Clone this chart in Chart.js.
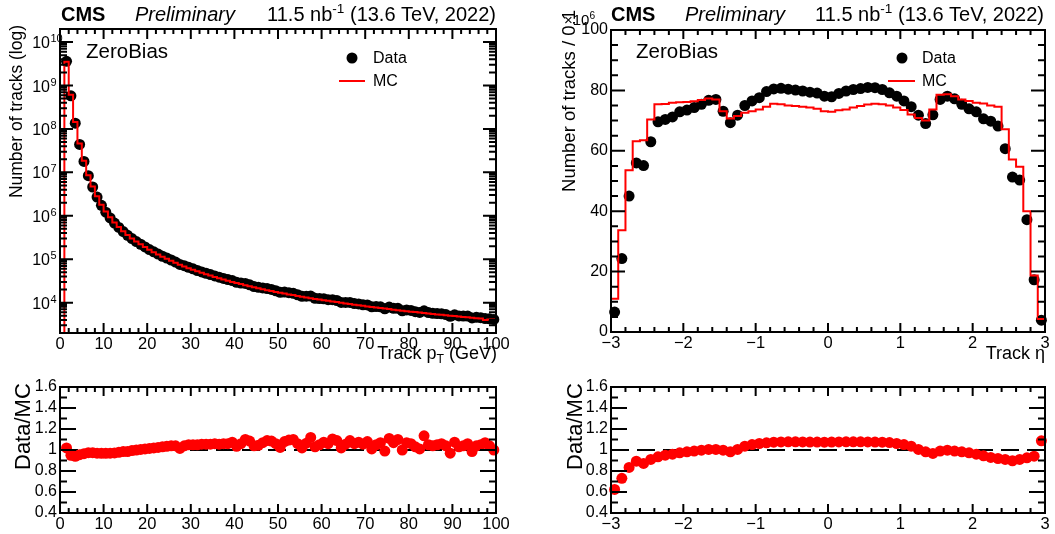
<!DOCTYPE html>
<html>
<head>
<meta charset="utf-8">
<script src="https://cdn.jsdelivr.net/npm/chart.js@4.4.1/dist/chart.umd.min.js"></script>
<style>
  body { margin: 0; background: #fff; }
  #wrap { position: relative; width: 1055px; height: 534px; }
  canvas { position: absolute; }
</style>
</head>
<body>
<div id="wrap">
  <canvas id="ptTop" width="527" height="370" style="left:0;top:0"></canvas>
  <canvas id="etaTop" width="528" height="370" style="left:527px;top:0"></canvas>
  <canvas id="ptRatio" width="527" height="164" style="left:0;top:370px"></canvas>
  <canvas id="etaRatio" width="528" height="164" style="left:527px;top:370px"></canvas>
</div>
<script>
const FONT = '"Liberation Sans", Arial, Helvetica, sans-serif';

// track pT: 1 GeV bins from 0 to 100
const ptLow = 0, ptWidth = 1;
const ptMC = [
  0, 3.5e9, 6.1e8, 1.45e8, 4.6e7, 1.85e7, 8.6e6, 4.7e6, 2.8e6, 1.8e6,
  1.25e6, 9.2e5, 7.0e5, 5.5e5, 4.4e5, 3.6e5, 3.0e5, 2.55e5, 2.2e5, 1.9e5,
  1.65e5, 1.45e5, 1.28e5, 1.14e5, 1.02e5, 9.2e4, 8.3e4, 7.5e4, 6.8e4, 6.2e4,
  5.7e4, 5.25e4, 4.85e4, 4.5e4, 4.2e4, 3.9e4, 3.65e4, 3.4e4, 3.2e4, 3.0e4,
  2.83e4, 2.67e4, 2.52e4, 2.38e4, 2.26e4, 2.15e4, 2.04e4, 1.94e4, 1.85e4, 1.77e4,
  1.69e4, 1.62e4, 1.55e4, 1.49e4, 1.43e4, 1.37e4, 1.32e4, 1.27e4, 1.22e4, 1.18e4,
  1.14e4, 1.10e4, 1.06e4, 1.03e4, 9.9e3, 9.6e3, 9.3e3, 9.0e3, 8.7e3, 8.45e3,
  8.2e3, 7.95e3, 7.7e3, 7.5e3, 7.3e3, 7.1e3, 6.9e3, 6.7e3, 6.5e3, 6.35e3,
  6.2e3, 6.05e3, 5.9e3, 5.75e3, 5.6e3, 5.5e3, 5.35e3, 5.25e3, 5.1e3, 5.0e3,
  4.9e3, 4.8e3, 4.7e3, 4.6e3, 4.5e3, 4.4e3, 4.3e3, 4.0e3, 4.1e3, 4.1e3
];
const ptData = [
  null, 3.6e9, 5.8e8, 1.36e8, 4.4e7, 1.79e7, 8.4e6, 4.6e6, 2.7e6, 1.74e6,
  1.21e6, 8.9e5, 6.8e5, 5.4e5, 4.33e5, 3.55e5, 2.99e5, 2.55e5, 2.21e5, 1.92e5,
  1.67e5, 1.48e5, 1.31e5, 1.17e5, 1.06e5, 9.6e4, 8.6e4, 7.6e4, 7.1e4, 6.5e4,
  6.0e4, 5.5e4, 5.1e4, 4.75e4, 4.43e4, 4.13e4, 3.85e4, 3.6e4, 3.39e4, 3.23e4,
  2.93e4, 2.83e4, 2.77e4, 2.58e4, 2.35e4, 2.25e4, 2.18e4, 2.11e4, 2.01e4, 1.88e4,
  1.73e4, 1.75e4, 1.70e4, 1.64e4, 1.52e4, 1.40e4, 1.41e4, 1.42e4, 1.26e4, 1.24e4,
  1.23e4, 1.17e4, 1.17e4, 1.12e4, 1.01e4, 1.01e4, 1.01e4, 9.5e3, 9.35e3, 8.9e3,
  8.85e3, 8.0e3, 8.1e3, 8.0e3, 7.2e3, 7.9e3, 7.4e3, 7.4e3, 6.5e3, 6.8e3,
  6.6e3, 6.2e3, 5.95e3, 6.5e3, 5.9e3, 5.7e3, 5.6e3, 5.55e3, 5.3e3, 4.85e3,
  5.25e3, 4.95e3, 4.9e3, 4.9e3, 4.45e3, 4.6e3, 4.5e3, 4.3e3, 4.25e3, 4.1e3
];
const ptRatio = [
  null, 1.02, 0.95, 0.94, 0.955, 0.965, 0.975, 0.975, 0.97, 0.968,
  0.968, 0.97, 0.972, 0.978, 0.985, 0.985, 0.995, 1.0, 1.005, 1.01,
  1.015, 1.02, 1.025, 1.03, 1.035, 1.04, 1.04, 1.015, 1.04, 1.05,
  1.05, 1.05, 1.055, 1.055, 1.055, 1.06, 1.055, 1.06, 1.06, 1.075,
  1.035, 1.06, 1.1, 1.085, 1.04, 1.045, 1.07, 1.09, 1.085, 1.06,
  1.025, 1.08, 1.095, 1.1, 1.06, 1.02, 1.065, 1.12, 1.03, 1.05,
  1.075, 1.06, 1.105, 1.09, 1.02, 1.055, 1.09, 1.06, 1.075, 1.055,
  1.08, 1.01, 1.05, 1.07, 0.99, 1.11, 1.07, 1.1, 1.0, 1.07,
  1.06, 1.03, 1.01, 1.135, 1.05, 1.04, 1.05, 1.06, 1.04, 0.97,
  1.075, 1.03, 1.04, 1.06, 0.985, 1.04, 1.05, 1.07, 1.04, 1.0
];

// track eta: 0.1 bins from -3 to 3, in units of 10^6 tracks
const etaLow = -3, etaWidth = 0.1;
const etaMC = [
  11.0, 33.7, 53.6, 63.2, 63.5, 70.4, 75.4, 75.5, 75.9, 76.1,
  76.2, 76.4, 76.8, 77.3, 77.0, 73.1, 70.7, 71.5, 72.6, 73.1,
  73.7, 74.6, 75.6, 75.4, 75.0, 74.8, 74.6, 74.3, 73.9, 73.1,
  72.9, 73.4, 73.7, 74.3, 74.8, 75.3, 75.6, 75.4, 75.0, 74.3,
  73.5, 72.0, 70.9, 70.0, 73.7, 78.6, 78.7, 78.1, 77.0, 76.5,
  75.9, 75.7, 75.0, 74.6, 67.1, 57.1, 54.7, 40.0, 18.7, 4.3
];
const etaData = [
  6.6, 24.3, 45.0, 56.0, 55.1, 63.0, 69.6, 70.4, 71.2, 72.9,
  73.5, 74.3, 75.4, 76.7, 77.0, 73.1, 69.3, 71.8, 75.0, 76.5,
  77.6, 79.6, 80.5, 80.7, 80.4, 80.1, 79.8, 79.4, 79.1, 78.1,
  77.9, 79.0, 79.8, 80.3, 80.6, 81.0, 80.9, 80.3, 79.2, 78.1,
  76.5, 74.6, 71.8, 69.0, 71.9, 77.0, 78.1, 77.2, 75.4, 73.9,
  72.9, 70.6, 69.8, 68.2, 60.7, 51.3, 50.3, 37.2, 17.3, 3.9
];
const etaRatio = [
  0.625, 0.73, 0.834, 0.894, 0.872, 0.91, 0.935, 0.951, 0.96, 0.973,
  0.983, 0.99, 0.998, 1.005, 1.005, 0.998, 0.983, 1.005, 1.036, 1.052,
  1.062, 1.068, 1.074, 1.077, 1.078, 1.078, 1.077, 1.076, 1.076, 1.075,
  1.076, 1.077, 1.078, 1.078, 1.078, 1.077, 1.076, 1.074, 1.071, 1.062,
  1.052, 1.036, 1.005, 0.983, 0.967, 0.99, 0.998, 0.99, 0.983, 0.973,
  0.96, 0.945, 0.929, 0.919, 0.91, 0.897, 0.91, 0.926, 0.941, 1.087
];

const logDecades = [4, 5, 6, 7, 8, 9, 10];

function centers(lo, w, vals) {
  return vals.map((v, i) => ({x: +(lo + (i + 0.5) * w).toFixed(3), y: v}));
}

// step outline: one point per left bin edge, closed on both ends
function histOutline(lo, w, vals, floor) {
  const pts = [{x: lo, y: floor}];
  vals.forEach((v, i) => pts.push({x: +(lo + i * w).toFixed(3), y: v > 0 ? v : floor}));
  const hi = +(lo + vals.length * w).toFixed(3);
  pts.push({x: hi, y: vals[vals.length - 1]});
  pts.push({x: hi, y: floor});
  return pts;
}

function ticksOf(min, max, step) {
  const n = Math.round((max - min) / step);
  const out = [];
  for (let i = 0; i <= n; i++) out.push(min + i * step);
  return out;
}

function drawRich(ctx, item) {
  const size = item.size;
  const segs = item.parts.map(p => {
    const s = (p.sup || p.sub) ? size * 0.68 : size;
    const font = `${p.style || 'normal'} ${p.weight || 'normal'} ${s}px ${FONT}`;
    ctx.font = font;
    return {p, font, w: ctx.measureText(p.t).width,
            dy: p.sup ? -size * 0.42 : p.sub ? size * 0.22 : 0};
  });
  const total = segs.reduce((a, s) => a + s.w, 0);
  ctx.save();
  ctx.translate(item.x, item.y);
  if (item.rot) ctx.rotate(item.rot * Math.PI / 180);
  let x = item.align === 'right' ? -total : item.align === 'center' ? -total / 2 : 0;
  ctx.fillStyle = item.color || '#000';
  ctx.textAlign = 'left';
  ctx.textBaseline = 'alphabetic';
  segs.forEach(s => { ctx.font = s.font; ctx.fillText(s.p.t, x, s.dy); x += s.w; });
  ctx.restore();
}

// ROOT-like frame: inward ticks on all four sides, ref line, text
const rootFrame = {
  id: 'rootFrame',
  beforeDatasetsDraw(chart, args, o) {
    if (o.refLine == null) return;
    const {ctx, chartArea: a, scales: {y}} = chart;
    const py = y.getPixelForValue(o.refLine);
    ctx.save();
    ctx.strokeStyle = '#000';
    ctx.lineWidth = 2;
    ctx.setLineDash([18, 8]);
    ctx.beginPath();
    ctx.moveTo(a.left, py);
    ctx.lineTo(a.right, py);
    ctx.stroke();
    ctx.restore();
  },
  afterDraw(chart, args, o) {
    const {ctx, chartArea: a, scales: {x, y}} = chart;
    ctx.save();
    ctx.strokeStyle = '#000';
    ctx.lineWidth = 2;
    ctx.beginPath();
    const xt = (v, len) => {
      const p = x.getPixelForValue(v);
      ctx.moveTo(p, a.bottom); ctx.lineTo(p, a.bottom - len);
      ctx.moveTo(p, a.top); ctx.lineTo(p, a.top + len);
    };
    const yt = (v, len) => {
      const p = y.getPixelForValue(v);
      ctx.moveTo(a.left, p); ctx.lineTo(a.left + len, p);
      ctx.moveTo(a.right, p); ctx.lineTo(a.right - len, p);
    };
    ticksOf(x.min, x.max, o.xMinor).forEach(v => xt(v, o.xLen[1]));
    ticksOf(x.min, x.max, o.xMajor).forEach(v => xt(v, o.xLen[0]));
    if (o.log) {
      const d0 = Math.floor(Math.log10(y.min)), d1 = Math.ceil(Math.log10(y.max));
      for (let d = d0; d <= d1; d++) {
        for (let m = 1; m <= 9; m++) {
          const v = m * Math.pow(10, d);
          if (v >= y.min && v <= y.max) yt(v, m === 1 ? o.yLen[0] : o.yLen[1]);
        }
      }
    } else {
      ticksOf(y.min, y.max, o.yMinor).forEach(v => yt(v, o.yLen[1]));
      ticksOf(y.min, y.max, o.yMajor).forEach(v => yt(v, o.yLen[0]));
    }
    ctx.stroke();
    ctx.strokeRect(a.left, a.top, a.width, a.height);

    if (o.log) {
      logDecades.forEach(d => {
        const p = y.getPixelForValue(Math.pow(10, d));
        drawRich(ctx, {x: a.left - 10, y: p + 6, size: 16, align: 'right', parts: [{t: '10'}]});
        ctx.font = `11px ${FONT}`;
        ctx.fillStyle = '#000';
        ctx.textAlign = 'left';
        ctx.fillText(String(d), a.left - 9.5, p);
      });
    }
    (o.marks || []).forEach(m => {
      if (m.dot) {
        ctx.fillStyle = m.color;
        ctx.beginPath();
        ctx.arc(m.x, m.y, 5.5, 0, Math.PI * 2);
        ctx.fill();
      } else {
        ctx.strokeStyle = m.color;
        ctx.lineWidth = 2;
        ctx.beginPath();
        ctx.moveTo(m.x, m.y);
        ctx.lineTo(m.x2, m.y);
        ctx.stroke();
      }
    });
    (o.texts || []).forEach(t => drawRich(ctx, t));
    ctx.restore();
  }
};

const xTickFont = {family: FONT, size: 16.5};
const yTickFont = {family: FONT, size: 16};
const minusLabel = v => (v < 0 ? '\u2212' + (-v) : String(v));
const ratioLabel = v => String(+v.toFixed(1));

function panel(id, o) {
  return new Chart(document.getElementById(id), {
    type: 'line',
    data: {datasets: o.datasets},
    options: {
      responsive: false,
      animation: false,
      events: [],
      layout: {padding: {top: o.top, right: o.right, bottom: 0, left: 0}},
      plugins: {legend: {display: false}, tooltip: {enabled: false}, rootFrame: o.frame},
      scales: {
        x: {
          type: 'linear', min: o.x[0], max: o.x[1],
          ticks: {stepSize: o.x[2], font: xTickFont, color: '#000', padding: 2,
                  maxRotation: 0, autoSkip: false, callback: o.xLabel},
          grid: {display: false, drawTicks: false},
          border: {display: false},
          afterFit: s => { s.height = o.xh; }
        },
        y: {
          type: o.log ? 'logarithmic' : 'linear', min: o.y[0], max: o.y[1],
          ticks: o.log ? {display: false}
                       : {stepSize: o.y[2], font: yTickFont, color: '#000', padding: 3,
                          autoSkip: false, callback: o.yLabel},
          grid: {display: false, drawTicks: false},
          border: {display: false},
          afterFit: s => { s.width = o.yw; }
        }
      }
    },
    plugins: [rootFrame]
  });
}

const header = (cms, prelim, lumiRight) => [
  {x: cms, y: 21, size: 20, parts: [{t: 'CMS', weight: 'bold'}]},
  {x: prelim, y: 21, size: 20, parts: [{t: 'Preliminary', style: 'italic'}]},
  {x: lumiRight, y: 21, size: 20, align: 'right',
   parts: [{t: '11.5 nb'}, {t: '-1', sup: true}, {t: ' (13.6 TeV, 2022)'}]}
];

const mcLine = (pts) => ({
  data: pts, borderColor: '#ff0000', borderWidth: 2, pointRadius: 0,
  stepped: 'before', fill: false, order: 0
});
const dots = (pts, color) => ({
  data: pts, showLine: false, pointRadius: 5.5, pointBackgroundColor: color,
  pointBorderWidth: 0, order: 1, clip: false
});

const ptMin = 2000, ptMax = 2e10;

panel('ptTop', {
  top: 29, right: 31, yw: 60, xh: 37, log: true,
  x: [0, 100, 10], y: [ptMin, ptMax],
  datasets: [
    mcLine(histOutline(ptLow, ptWidth, ptMC, ptMin / 10)),
    dots(centers(ptLow, ptWidth, ptData), '#000')
  ],
  frame: {
    log: true, xMajor: 10, xMinor: 2, xLen: [10, 5], yLen: [13, 7],
    marks: [{dot: true, x: 352, y: 58, color: '#000'}, {x: 339, x2: 365, y: 81, color: '#ff0000'}],
    texts: header(61, 135, 496).concat([
      {x: 86, y: 58, size: 20.5, parts: [{t: 'ZeroBias'}]},
      {x: 373, y: 63, size: 16, parts: [{t: 'Data'}]},
      {x: 373, y: 86, size: 16, parts: [{t: 'MC'}]},
      {x: 22, y: 25, size: 17.5, rot: -90, align: 'right', parts: [{t: 'Number of tracks (log)'}]},
      {x: 497, y: 359, size: 18, align: 'right', parts: [{t: 'Track p'}, {t: 'T', sub: true}, {t: ' (GeV)'}]}
    ])
  }
});

panel('etaTop', {
  top: 30, right: 10, yw: 84, xh: 38,
  x: [-3, 3, 1], y: [0, 100, 20], xLabel: minusLabel,
  datasets: [
    mcLine(histOutline(etaLow, etaWidth, etaMC, 0)),
    dots(centers(etaLow, etaWidth, etaData), '#000')
  ],
  frame: {
    xMajor: 1, xMinor: 0.2, yMajor: 20, yMinor: 5, xLen: [9, 5], yLen: [14, 7],
    marks: [{dot: true, x: 375, y: 58, color: '#000'}, {x: 361, x2: 388, y: 81, color: '#ff0000'}],
    texts: header(84, 158, 517).concat([
      {x: 109, y: 58, size: 20.5, parts: [{t: 'ZeroBias'}]},
      {x: 395, y: 63, size: 16, parts: [{t: 'Data'}]},
      {x: 395, y: 86, size: 16, parts: [{t: 'MC'}]},
      {x: 48, y: 10, size: 18.5, rot: -90, align: 'right', parts: [{t: 'Number of tracks / 0.1'}]},
      {x: 37, y: 25, size: 15, parts: [{t: '\u00d710'}, {t: '6', sup: true}]},
      {x: 518, y: 359, size: 18, align: 'right', parts: [{t: 'Track \u03b7'}]}
    ])
  }
});

panel('ptRatio', {
  top: 17, right: 31, yw: 60, xh: 21,
  x: [0, 100, 10], y: [0.4, 1.6, 0.2], yLabel: ratioLabel,
  datasets: [dots(centers(ptLow, ptWidth, ptRatio), '#ff0000')],
  frame: {
    refLine: 1, xMajor: 10, xMinor: 2, yMajor: 0.2, yMinor: 0.1, xLen: [9, 5], yLen: [16, 7],
    texts: [{x: 30, y: 100, size: 22, rot: -90, parts: [{t: 'Data/MC'}]}]
  }
});

panel('etaRatio', {
  top: 17, right: 10, yw: 84, xh: 21,
  x: [-3, 3, 1], y: [0.4, 1.6, 0.2], xLabel: minusLabel, yLabel: ratioLabel,
  datasets: [dots(centers(etaLow, etaWidth, etaRatio), '#ff0000')],
  frame: {
    refLine: 1, xMajor: 1, xMinor: 0.2, yMajor: 0.2, yMinor: 0.1, xLen: [9, 5], yLen: [16, 7],
    texts: [{x: 55, y: 100, size: 22, rot: -90, parts: [{t: 'Data/MC'}]}]
  }
});
</script>
</body>
</html>
